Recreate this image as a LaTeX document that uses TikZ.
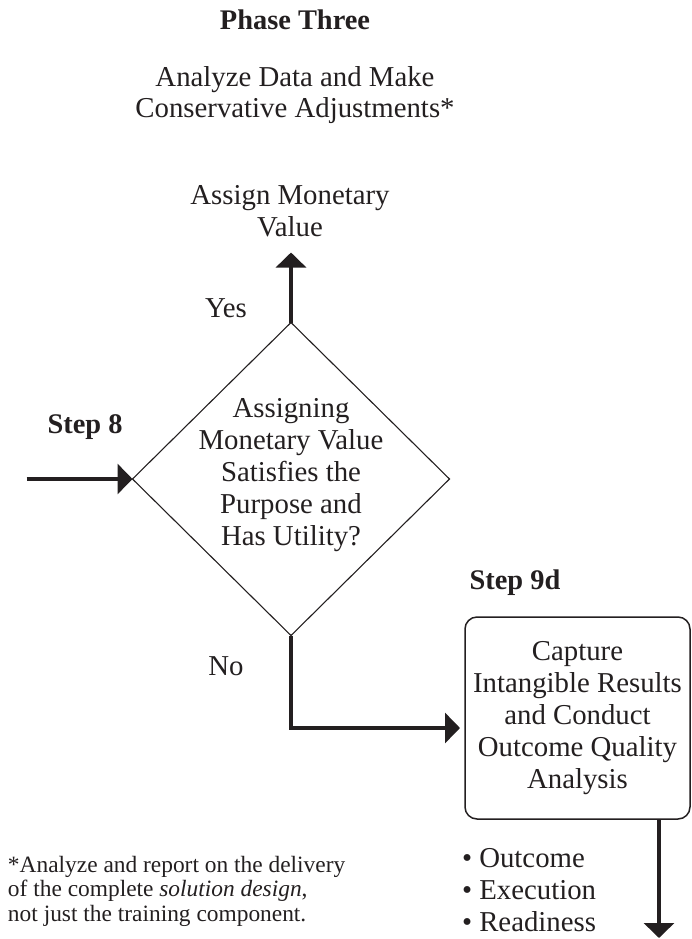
\documentclass[tikz,border=0pt]{standalone}
\usepackage{fontspec}
\setmainfont{Liberation Serif}
\usetikzlibrary{shapes.geometric,arrows.meta}
\definecolor{ink}{RGB}{35,31,32}
\begin{document}
\begin{tikzpicture}[x=0.5pt,y=-0.5pt,
  every node/.style={text=ink, inner sep=0pt, outer sep=0pt},
  main/.style={font=\fontsize{14.4}{15.9}\selectfont, align=center},
  heading/.style={font=\fontsize{14.2}{15.9}\selectfont\bfseries},
  note/.style={font=\fontsize{11.7}{12.2}\selectfont, align=left},
  flow/.style={draw=ink, line width=1.6pt, -{Triangle[width=15pt,length=7.5pt]}},
  decision/.style={diamond, draw=ink, line width=0.55pt,
    minimum width=158.5pt, minimum height=156.5pt},
  stepbox/.style={rectangle, rounded corners=6pt, draw=ink, line width=0.75pt,
    minimum width=112.5pt, minimum height=101pt, main}
]
\useasboundingbox (0,0) rectangle (692,939);

% headings
\node[heading] (phase) at (295,20) {Phase Three};
\node[main] (title) at (295,95) {Analyze Data and Make\\Conservative Adjustments*};
\node[main] (assign) at (290,211) {Assign Monetary\\Value};

% decision
\node[decision] (dec) at (291,479) {};
\node[main] (dectext) at (291,475) {Assigning\\Monetary Value\\Satisfies the\\Purpose and\\Has Utility?};

% step 9d box
\node[stepbox] (box) at (577.5,718) {Capture\\Intangible Results\\and Conduct\\Outcome Quality\\Analysis};

% labels
\node[main] (yes) at (226,308) {Yes};
\node[main] (no) at (226,666) {No};
\node[heading] (s8) at (85,427) {Step 8};
\node[heading] (s9) at (515,583) {Step 9d};

% connectors
\coordinate (yesend) at ([yshift=35pt]dec.north);
\coordinate (instart) at ([xshift=-53pt]dec.west);
\coordinate (outend) at (659,938);
\draw[flow] (dec.north) -- (yesend);
\draw[flow] (instart) -- (dec.west);
\draw[flow] (dec.south) |- ([yshift=-5pt,xshift=-2.5pt]box.west);
\draw[flow] (box.south -| outend) -- (outend);

% bullets and footnote
\node[main, align=left, anchor=west] (bul) at (462,890)
  {\textbullet\ Outcome\\\textbullet\ Execution\\\textbullet\ Readiness};
\node[note, anchor=west] (fn) at (8,891)
  {*Analyze and report on the delivery\\of the complete \textit{solution design},\\not just the training component.};
\end{tikzpicture}
\end{document}
